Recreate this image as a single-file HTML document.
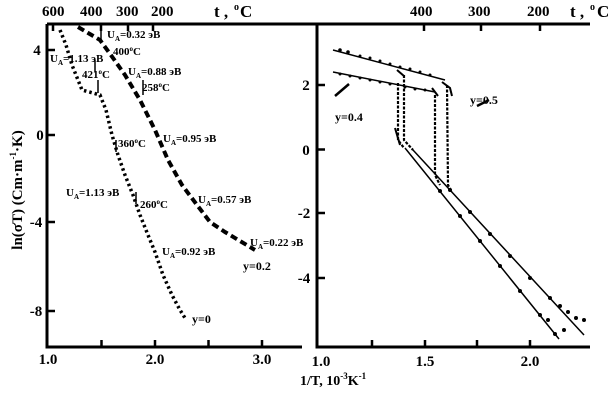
<!DOCTYPE html><html><head><style>body{margin:0;background:#fff}svg{display:block}text{font-family:"Liberation Serif",serif;font-weight:bold;fill:#000}</style></head><body>
<svg width="614" height="400" viewBox="0 0 614 400" xmlns="http://www.w3.org/2000/svg">
<g stroke="#000" stroke-width="3" fill="none">
<path d="M47 24V347H302"/><path d="M47 24H302"/>
<path d="M317 24V347H590"/><path d="M300 24H590"/>
</g>
<g stroke="#000" stroke-width="2.5">
<path d="M47 50h8M47 135h8M47 222h8M47 311h8"/>
<path d="M101.5 347v-7M155 347v-7M208.5 347v-7M262 347v-7"/>
<path d="M53 24v7M101 24v7M128 24v7M153 24v7"/>
<path d="M317 85h8M317 149.5h8M317 213h8M317 278h8"/>
<path d="M372 347v-7M425 347v-7M477 347v-7M530 347v-7"/>
<path d="M424 24v7M481 24v7M540 24v7"/>
</g>
<g font-size="15">
<text x="42" y="16">600</text><text x="80" y="16">400</text><text x="116" y="16">300</text><text x="151" y="16">200</text>
<text x="214" y="17" font-size="17">t ,</text><text x="234" y="10" font-size="10">o</text><text x="240" y="17" font-size="17">C</text>
<text x="410" y="16">400</text><text x="468" y="16">300</text><text x="527" y="16">200</text>
<text x="570" y="17" font-size="17">t ,</text><text x="590" y="10" font-size="10">o</text><text x="597" y="17" font-size="17">C</text>
<text x="37" y="55" text-anchor="middle">4</text><text x="40" y="140" text-anchor="middle">0</text><text x="36" y="227" text-anchor="middle">-4</text><text x="36" y="316" text-anchor="middle">-8</text>
<text x="48" y="364" text-anchor="middle">1.0</text><text x="155" y="364" text-anchor="middle">2.0</text><text x="262" y="364" text-anchor="middle">3.0</text>
<text x="306" y="90" text-anchor="middle">2</text><text x="306" y="155" text-anchor="middle">0</text><text x="304" y="218" text-anchor="middle">-2</text><text x="304" y="283" text-anchor="middle">-4</text>
<text x="321" y="366" text-anchor="middle">1.0</text><text x="425" y="366" text-anchor="middle">1.5</text><text x="530" y="366" text-anchor="middle">2.0</text>
<text x="300" y="385" font-size="14">1/T, 10<tspan font-size="9" dy="-6">-3</tspan><tspan dy="6">K</tspan><tspan font-size="9" dy="-6">-1</tspan></text>
<text transform="translate(22 190) rotate(-90)" text-anchor="middle" font-size="15">ln(σT) (Cm·m<tspan font-size="9" dy="-6">-1</tspan><tspan dy="6">·K)</tspan></text>
</g>
<g font-size="11">
<text x="107" y="38">U<tspan font-size="7" dy="3">A</tspan><tspan dy="-3">=0.32 эВ</tspan></text>
<text x="113" y="55">400<tspan font-size="7" dy="-4">o</tspan><tspan dy="4">C</tspan></text>
<text x="50" y="62">U<tspan font-size="7" dy="3">A</tspan><tspan dy="-3">=1.13 эВ</tspan></text>
<text x="82" y="78">421<tspan font-size="7" dy="-4">o</tspan><tspan dy="4">C</tspan></text>
<text x="128" y="75">U<tspan font-size="7" dy="3">A</tspan><tspan dy="-3">=0.88 эВ</tspan></text>
<text x="142" y="91">258<tspan font-size="7" dy="-4">o</tspan><tspan dy="4">C</tspan></text>
<text x="118" y="147">360<tspan font-size="7" dy="-4">o</tspan><tspan dy="4">C</tspan></text>
<text x="163" y="142">U<tspan font-size="7" dy="3">A</tspan><tspan dy="-3">=0.95 эВ</tspan></text>
<text x="66" y="196">U<tspan font-size="7" dy="3">A</tspan><tspan dy="-3">=1.13 эВ</tspan></text>
<text x="140" y="208">260<tspan font-size="7" dy="-4">o</tspan><tspan dy="4">C</tspan></text>
<text x="198" y="203">U<tspan font-size="7" dy="3">A</tspan><tspan dy="-3">=0.57 эВ</tspan></text>
<text x="250" y="246">U<tspan font-size="7" dy="3">A</tspan><tspan dy="-3">=0.22 эВ</tspan></text>
<text x="162" y="255">U<tspan font-size="7" dy="3">A</tspan><tspan dy="-3">=0.92 эВ</tspan></text>
<text x="243" y="270" font-weight="normal" font-size="12">y=0.2</text>
<text x="192" y="323" font-weight="normal" font-size="12">y=0</text>
<text x="335" y="121" font-weight="normal" font-size="12">y=0.4</text>
<text x="470" y="104" font-weight="normal" font-size="12">y=0.5</text>
</g>
<g fill="none" stroke="#000">
<path d="M78 27L100 40L113 58L125 75L140 100L155 130L168 160L182 185L197 205L210 222L225 232L255 250" stroke-width="4" stroke-dasharray="7 4"/>
<path d="M60 30L66 45L72 65L78 80L82 90L93 93L100 95L106 110L112 135L118 155L125 175L133 195L140 215L148 235L155 252L163 275L172 295L180 310L185 318" stroke-width="3.5" stroke-dasharray="2.5 3"/>
<path d="M101 30v12M95 60v12M143 80v15M98 80v13M116 140v12M136 192v12" stroke-width="1.5"/>
<path d="M333 50L445 80M333 72L435 92M405 148L559 339M413 150L584 335" stroke-width="1.5"/>
<path d="M398 83L398 140L404 148M404 75L404 140L413 150M435 95L435 175L440 185M447 85L448 185L452 192" stroke-width="2.2" stroke-dasharray="3 1.5"/>
<path d="M395 128L400 145M397 70L404 76M432 88L438 96M442 82L450 88L452 96" stroke-width="2"/>
<path d="M349 84L335 96" stroke-width="2.5"/><path d="M477 106L489 100" stroke-width="2.5"/>
</g>
<g fill="#000">
<circle cx="340" cy="50" r="1.8"/><circle cx="348" cy="52" r="1.8"/><circle cx="360" cy="56" r="1.5"/><circle cx="370" cy="58" r="1.5"/><circle cx="380" cy="61" r="1.5"/><circle cx="390" cy="64" r="1.5"/><circle cx="400" cy="67" r="1.5"/><circle cx="410" cy="69" r="1.5"/><circle cx="420" cy="72" r="1.5"/><circle cx="430" cy="75" r="1.5"/>
<circle cx="340" cy="74" r="1.5"/><circle cx="350" cy="76" r="1.5"/><circle cx="360" cy="78" r="1.5"/><circle cx="370" cy="80" r="1.5"/><circle cx="380" cy="82" r="1.5"/><circle cx="390" cy="84" r="1.5"/><circle cx="405" cy="87" r="1.5"/><circle cx="415" cy="89" r="1.5"/><circle cx="425" cy="90" r="1.5"/>
<circle cx="440" cy="191" r="2"/><circle cx="460" cy="216" r="2"/><circle cx="480" cy="241" r="2"/><circle cx="500" cy="266" r="2"/><circle cx="520" cy="291" r="2"/><circle cx="540" cy="315" r="2"/><circle cx="548" cy="320" r="2"/><circle cx="555" cy="334" r="2"/><circle cx="564" cy="330" r="2"/>
<circle cx="450" cy="190" r="2"/><circle cx="470" cy="212" r="2"/><circle cx="490" cy="234" r="2"/><circle cx="510" cy="256" r="2"/><circle cx="530" cy="278" r="2"/><circle cx="550" cy="298" r="2"/><circle cx="560" cy="306" r="2"/><circle cx="568" cy="312" r="2"/><circle cx="576" cy="318" r="2"/><circle cx="584" cy="320" r="2"/>
</g>
</svg>
</body></html>
